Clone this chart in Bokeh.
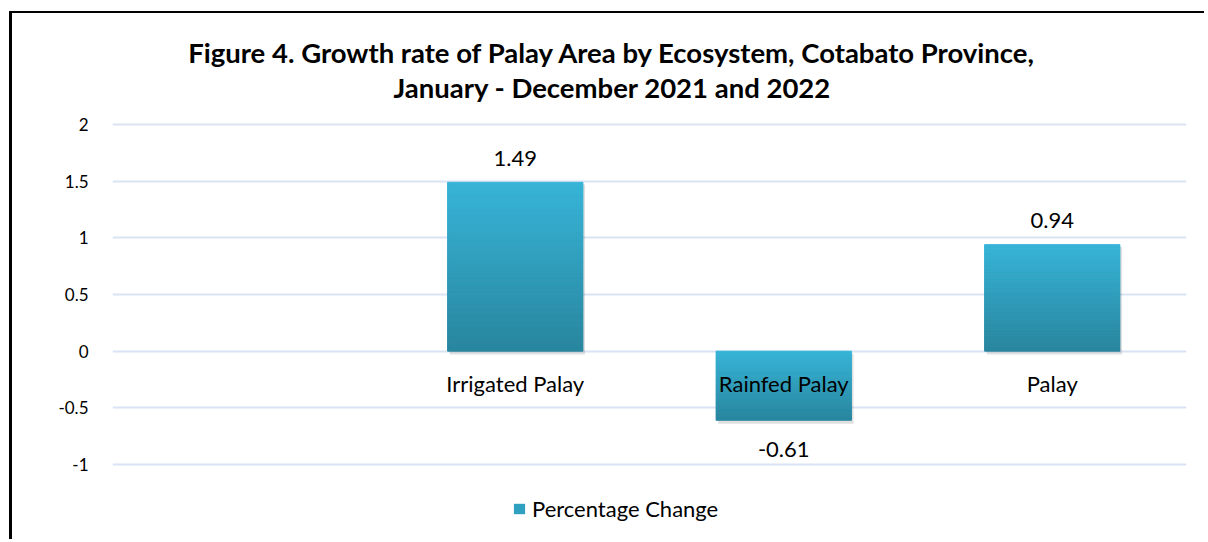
from bokeh.plotting import figure
from bokeh.models import FactorRange, Range1d, Label, Legend, LegendItem, ColumnDataSource, FixedTicker
from bokeh.core.properties import value
from bokeh.transform import dodge
from bokeh.embed import file_html
from bokeh.resources import INLINE

# ---- data ----
categories = [" ", "Irrigated Palay", "Rainfed Palay", "Palay"]
bar_categories = ["Irrigated Palay", "Rainfed Palay", "Palay"]
pct_change = [1.49, -0.61, 0.94]
value_labels = ["1.49", "-0.61", "0.94"]
y_ticks = [-1, -0.5, 0, 0.5, 1, 1.5, 2]
tick_labels = {-1: "-1", -0.5: "-0.5", 0: "0", 0.5: "0.5", 1: "1", 1.5: "1.5", 2: "2"}
series_name = "Percentage Change"
title_line1 = "Figure 4. Growth rate of Palay Area by Ecosystem, Cotabato Province,"
title_line2 = "January - December 2021 and 2022"

FONT = "Lato"
TOP_C = (0x37, 0xB4, 0xD7)
BOT_C = (0x29, 0x86, 0x9F)

# frame spans the whole canvas height (title and legend drawn inside it)
p = figure(x_range=FactorRange(*categories, range_padding=0), y_range=Range1d(-1.6177, 2.9794),
           width=1195, height=528, output_backend="svg", toolbar_location=None,
           x_axis_location=None, min_border_left=100, min_border_right=21,
           min_border_top=0, min_border_bottom=7,
           styles={"border-left": "3px solid black", "border-top": "2px solid black",
                   "margin-left": "9px", "margin-top": "11px"})
p.outline_line_color = None
p.xgrid.grid_line_color = None
p.ygrid.grid_line_color = "#D9E3F4"
p.ygrid.grid_line_width = 2
p.ygrid.ticker = FixedTicker(ticks=y_ticks)

ax = p.yaxis[0]
ax.ticker = FixedTicker(ticks=y_ticks)
ax.major_label_overrides = tick_labels
ax.axis_line_color = None
ax.major_tick_line_color = None
ax.minor_tick_line_color = None
ax.major_label_text_font = FONT
ax.major_label_text_font_size = "17px"
ax.major_label_text_color = "#000000"
ax.major_label_standoff = 18

# shadow
hi = [max(v, 0) for v in pct_change]
lo = [min(v, 0) for v in pct_change]
shadow_src = ColumnDataSource(dict(x=bar_categories, top=[h - 0.02 for h in hi], bottom=[l - 0.03 for l in lo]))
p.vbar(x=dodge("x", 0.008, range=p.x_range), top="top", bottom="bottom", width=0.504,
       source=shadow_src, fill_color="#000000", fill_alpha=0.12, line_color=None)

# gradient bars as slices
n = 60
xs, tops, bots, cols = [], [], [], []
for c, h, l in zip(bar_categories, hi, lo):
    for i in range(n):
        t = i / (n - 1)
        col = tuple(int(round(a + (b - a) * t)) for a, b in zip(TOP_C, BOT_C))
        xs.append(c)
        tops.append(h - (h - l) * i / n)
        bots.append(h - (h - l) * (i + 1) / n)
        cols.append("#%02x%02x%02x" % col)
bar_src = ColumnDataSource(dict(x=xs, top=tops, bottom=bots, color=cols))
p.vbar(x="x", top="top", bottom="bottom", width=0.504, source=bar_src,
       fill_color="color", line_color="color", line_width=1)

# legend proxy renderer
leg_r = p.vbar(x=[bar_categories[0]], top=[0], bottom=[0], width=0.5,
               fill_color="#30A0C0", line_color=None)

# value labels
offs = [-24 if v >= 0 else 29 for v in pct_change]
lab_src = ColumnDataSource(dict(x=bar_categories, y=pct_change, text=value_labels, off=offs))
p.text(x="x", y="y", text="text", y_offset="off", source=lab_src, text_align="center",
       text_baseline="middle", text_font=value(FONT), text_font_size="22px", text_color="#000000")

# category labels at zero line
cat_src = ColumnDataSource(dict(x=bar_categories, y=[0] * len(bar_categories), text=bar_categories))
p.text(x="x", y="y", text="text", y_offset=32, source=cat_src, text_align="center",
       text_baseline="middle", text_font=value(FONT), text_font_size="22px", text_color="#000000")

# title lines (screen units measured from frame's bottom-left)
for txt, yy in [(title_line1, 482), (title_line2, 447)]:
    p.add_layout(Label(x=500, y=yy, x_units="screen", y_units="screen", text=txt,
                       text_align="center", text_baseline="alphabetic", text_font=FONT,
                       text_font_size="27.5px", text_font_style="bold", text_color="#000000"))

legend = Legend(items=[LegendItem(label=series_name, renderers=[leg_r])], orientation="horizontal",
                location=(400, 12), label_text_font=FONT, label_text_font_size="22px",
                label_text_color="#000000", glyph_width=14, glyph_height=13, label_standoff=6,
                border_line_color=None, background_fill_alpha=0, padding=0, margin=0,
                label_height=20)
p.add_layout(legend, "center")

open("out.html", "w").write(file_html(p, INLINE))
